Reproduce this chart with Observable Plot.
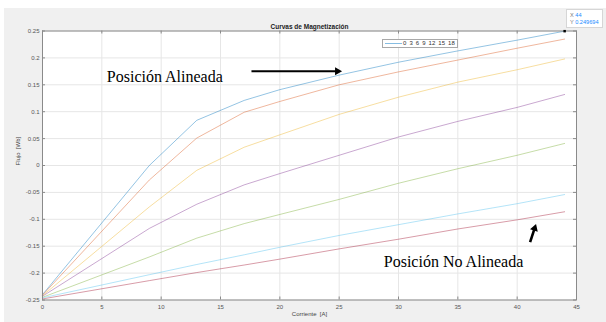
<!DOCTYPE html>
<html>
<head>
<meta charset="utf-8">
<script src="https://cdn.jsdelivr.net/npm/d3@7"></script>
<script src="https://cdn.jsdelivr.net/npm/@observablehq/plot@0.6"></script>
<style>
  html, body { margin: 0; padding: 0; background: #ffffff; }
  #wrap { position: relative; width: 606px; height: 322px; overflow: hidden; background: #ffffff; font-family: "Liberation Sans", Arial, sans-serif; }
  #panel { position: absolute; left: 4px; top: 8px; right: 0; bottom: 0; background: #f0f0f0; }
  #chart { position: absolute; left: 0; top: 0; }
  #legend { position: absolute; left: 382px; top: 39px; width: 76px; height: 9px; box-sizing: border-box; background: #fff; border: 1px solid #a8a8a8; }
  #legend .swatch { position: absolute; left: 2px; top: 3px; width: 17px; height: 1px; background: #86bde2; }
  #legend .lbl { position: absolute; left: 20px; top: 0px; font-size: 6px; line-height: 7px; color: #333; word-spacing: 1.4px; white-space: nowrap; }
  #tip { position: absolute; left: 566px; top: 9px; width: 37px; height: 19px; box-sizing: border-box; background: #fff; border: 1px solid #d6d6d6; font-size: 5.6px; line-height: 7px; padding: 2px 0 0 3px; white-space: nowrap; }
  #tip .k { color: #777; }
  #tip .v { color: #1a8cff; }
</style>
</head>
<body>
<div id="wrap">
  <div id="panel"></div>
  <div id="chart"></div>
  <div id="legend"><div class="swatch"></div><div class="lbl"></div></div>
  <div id="tip"></div>
</div>
<script>
// ---- data ----
const current = [0, 9, 13, 17, 20, 25, 30, 35, 40, 44];
const angles = ["0", "3", "6", "9", "12", "15", "18"];
const flux0  = [-0.240,  0.000,  0.084,  0.121,  0.141,  0.168,  0.192,  0.213,  0.233,  0.249694];
const flux3  = [-0.241, -0.027,  0.051,  0.099,  0.119,  0.150,  0.174,  0.196,  0.218,  0.235];
const flux6  = [-0.242, -0.077, -0.009,  0.034,  0.057,  0.095,  0.127,  0.155,  0.178,  0.198];
const flux9  = [-0.243, -0.117, -0.072, -0.036, -0.015,  0.019,  0.053,  0.082,  0.108,  0.132];
const flux12 = [-0.245, -0.170, -0.135, -0.108, -0.091, -0.063, -0.033, -0.006,  0.019,  0.041];
const flux15 = [-0.246, -0.203, -0.184, -0.166, -0.152, -0.130, -0.110, -0.090, -0.071, -0.054];
const flux18 = [-0.248, -0.214, -0.199, -0.185, -0.174, -0.155, -0.137, -0.118, -0.101, -0.086];
const xTicks = [0, 5, 10, 15, 20, 25, 30, 35, 40, 45];
const yTicks = [-0.25, -0.2, -0.15, -0.1, -0.05, 0, 0.05, 0.1, 0.15, 0.2, 0.25];
const titleText = "Curvas de Magnetización";
const xLabel = "Corriente  [A]";
const yLabel = "Flujo  [Wb]";
const legendText = "0 3 6 9 12 15 18";
const tipX = 44, tipY = 0.249694;
const annotText = ["Posición Alineada", "Posición No Alineada"];
const annotX = [5.42, 28.76];
const annotY = [0.1654, -0.1796];
const arrowX1 = [17.61, 41.09];
const arrowY1 = [0.1753, -0.1426];
const arrowX2 = [24.85, 41.47];
const arrowY2 = [0.1753, -0.1169];
const arrowRot = [90, 18];
const arrowR = [6.4, 6.4];
const arrowW = [2, 2.6];

// ---- build ----
const seriesList = [flux0, flux3, flux6, flux9, flux12, flux15, flux18];
const rows = [];
seriesList.forEach((s, i) => s.forEach((v, j) => rows.push({x: current[j], y: v, angle: angles[i]})));
const colors = ["#0072BD", "#D95319", "#EDB120", "#7E2F8E", "#77AC30", "#4DBEEE", "#A2142F"];
const annots = annotText.map((t, i) => ({t, x: annotX[i], y: annotY[i]}));
const arrows = arrowX1.map((_, i) => ({x1: arrowX1[i], y1: arrowY1[i], x2: arrowX2[i], y2: arrowY2[i], rot: arrowRot[i], r: arrowR[i], w: arrowW[i]}));

const W = 606, H = 322, mL = 42, mR = 30, mT = 30.5, mB = 22.5;
const iW = W - mL - mR, iH = H - mT - mB;
const axisColor = "#8a8a8a";
const fmt = d => String(+d.toFixed(2));

const chart = Plot.plot({
  width: W, height: H,
  marginLeft: mL, marginRight: mR, marginTop: mT, marginBottom: mB,
  style: {background: "transparent", fontFamily: "'Liberation Sans', Arial, sans-serif", fontSize: "6px", color: "#555"},
  x: {domain: [0, 45]},
  y: {domain: [-0.25, 0.25]},
  color: {domain: angles, range: colors},
  marks: [
    Plot.frame({fill: "white", stroke: null}),
    Plot.gridX(xTicks, {stroke: "#e6e6e6", strokeOpacity: 1}),
    Plot.gridY(yTicks, {stroke: "#e6e6e6", strokeOpacity: 1}),
    Plot.axisX(xTicks, {tickSize: 0, tickPadding: 4.5, tickFormat: fmt, label: null, fill: "#555"}),
    Plot.axisY(yTicks, {tickSize: 0, tickPadding: 3, tickFormat: fmt, label: null, fill: "#555"}),
    Plot.ruleX(xTicks, {x: d => d, insetTop: iH - 3, stroke: axisColor}),
    Plot.ruleX(xTicks, {x: d => d, insetBottom: iH - 3, stroke: axisColor}),
    Plot.ruleY(yTicks, {y: d => d, insetRight: iW - 3, stroke: axisColor}),
    Plot.ruleY(yTicks, {y: d => d, insetLeft: iW - 3, stroke: axisColor}),
    Plot.line(rows, {x: "x", y: "y", z: "angle", stroke: "angle", strokeWidth: 1, strokeOpacity: 0.42}),
    Plot.frame({stroke: axisColor, strokeWidth: 1}),
    Plot.dot([{x: tipX, y: tipY}], {x: "x", y: "y", symbol: "square", fill: "black", r: 1.4}),
    Plot.text(annots, {x: "x", y: "y", text: "t", textAnchor: "start", fontFamily: "'Liberation Serif', 'Times New Roman', serif", fontSize: 16, fill: "black"}),
    Plot.link(arrows, {x1: "x1", y1: "y1", x2: "x2", y2: "y2", stroke: "black", strokeWidth: "w"}),
    Plot.dot(arrows, {x: "x2", y: "y2", symbol: "triangle", r: d => d.r, rotate: "rot", fill: "black", stroke: null}),
    Plot.text([titleText], {frameAnchor: "top", dy: -6.5, fontWeight: "bold", fontSize: 6.5, fill: "#222"}),
    Plot.text([xLabel], {frameAnchor: "bottom", dy: 15.5, fontSize: 6, fill: "#444"}),
    Plot.text([yLabel], {frameAnchor: "left", dx: -24, rotate: -90, fontSize: 6, fill: "#444"})
  ]
});
document.getElementById("chart").appendChild(chart);
document.querySelector("#legend .lbl").textContent = legendText;
document.getElementById("tip").innerHTML = `<div><span class="k">X</span> <span class="v">${tipX}</span></div><div><span class="k">Y</span> <span class="v">${tipY}</span></div>`;
</script>
</body>
</html>
